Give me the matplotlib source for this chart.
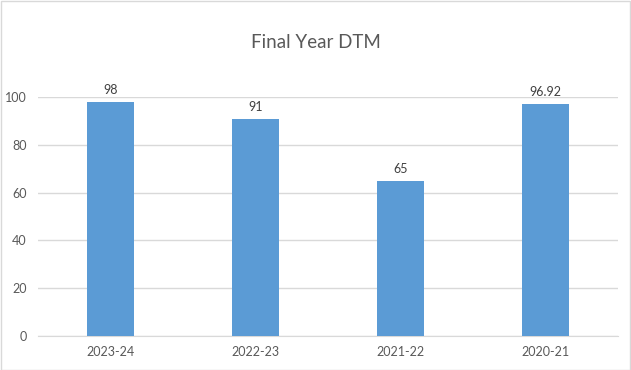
import matplotlib.pyplot as plt
from matplotlib.patches import Rectangle

categories = ['2023-24', '2022-23', '2021-22', '2020-21']
values = [98, 91, 65, 96.92]
value_labels = ['98', '91', '65', '96.92']

plt.rcParams['font.family'] = ['Lato', 'DejaVu Sans']

fig = plt.figure(figsize=(6.31, 3.70), dpi=100)
ax = fig.add_axes([38 / 631, 34 / 370, 580 / 631, 239 / 370])

x = range(len(categories))
bars = ax.bar(x, values, width=0.32, color='#5B9BD5', zorder=3)
for b, lab in zip(bars, value_labels):
    ax.text(b.get_x() + b.get_width() / 2, b.get_height() + 2.5, lab,
            ha='center', va='bottom', fontsize=9, color='#404040')

ax.set_xlim(-0.5, len(categories) - 0.5)
ax.set_ylim(0, 100)
ax.set_yticks(range(0, 101, 20))
ax.set_xticks(list(x))
ax.set_xticklabels(categories)
ax.yaxis.grid(True, color='#D9D9D9', linewidth=1, zorder=0)
ax.tick_params(axis='both', length=0, labelsize=9, labelcolor='#595959')
ax.tick_params(axis='x', pad=7)
ax.tick_params(axis='y', pad=8)
for s in ['top', 'right', 'left']:
    ax.spines[s].set_visible(False)
ax.spines['bottom'].set_color('#D9D9D9')
ax.set_facecolor('none')

fig.text(0.5, 1 - 42 / 370, 'Final Year DTM', ha='center', va='center',
         fontsize=13.5, color='#595959')

fig.patches.append(Rectangle((0.5 / 631, 0.5 / 370), 1 - 1.5 / 631, 1 - 1.5 / 370,
                             transform=fig.transFigure, fill=False,
                             edgecolor='#D9D9D9', linewidth=1))

plt.savefig('out.png', dpi=100)
